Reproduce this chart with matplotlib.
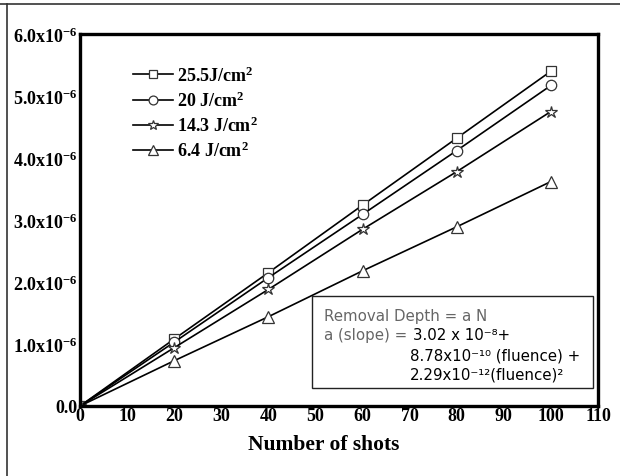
import matplotlib
matplotlib.use("Agg")
import matplotlib.pyplot as plt
from matplotlib.lines import Line2D
from matplotlib.patches import Rectangle

plt.rcParams['mathtext.fontset'] = 'custom'
plt.rcParams['mathtext.rm'] = 'Liberation Serif:bold'
plt.rcParams['mathtext.bf'] = 'Liberation Serif:bold'
plt.rcParams['mathtext.it'] = 'Liberation Serif:bold'

shots = [0, 20, 40, 60, 80, 100]
depth_25_5 = [0, 1.08e-6, 2.15e-6, 3.24e-6, 4.32e-6, 5.40e-6]
depth_20 = [0, 1.03e-6, 2.07e-6, 3.09e-6, 4.12e-6, 5.17e-6]
depth_14_3 = [0, 0.94e-6, 1.88e-6, 2.85e-6, 3.78e-6, 4.75e-6]
depth_6_4 = [0, 0.73e-6, 1.44e-6, 2.18e-6, 2.89e-6, 3.62e-6]
labels = ['25.5J/cm$^{2}$', '20 J/cm$^{2}$', '14.3 J/cm$^{2}$', '6.4 J/cm$^{2}$']
markers = ['s', 'o', '*', '^']
msizes = [7, 7.5, 9, 9]

xticks = [0, 10, 20, 30, 40, 50, 60, 70, 80, 90, 100, 110]
yticks = [0, 1e-6, 2e-6, 3e-6, 4e-6, 5e-6, 6e-6]
yticklabels = ['0.0', '1.0x10$^{-6}$', '2.0x10$^{-6}$', '3.0x10$^{-6}$',
               '4.0x10$^{-6}$', '5.0x10$^{-6}$', '6.0x10$^{-6}$']

W, H = 620, 477
fig = plt.figure(figsize=(6.2, 4.77), dpi=100)
L, R, T, B = 80, 598, 35, 407
ax = fig.add_axes([L / W, 1 - B / H, (R - L) / W, (B - T) / H])

serif = {'family': 'Liberation Serif', 'weight': 'bold'}

series = [depth_25_5, depth_20, depth_14_3, depth_6_4]
for ys, lab, m, ms in zip(series, labels, markers, msizes):
    ax.plot(shots, ys, color='black', lw=1.2, marker=m, markersize=ms,
            markerfacecolor='white', markeredgecolor='#333333',
            markeredgewidth=0.9, label=lab)

ax.set_xlim(0, 110)
ax.set_ylim(0, 6e-6)
ax.set_xticks(xticks)
ax.set_xticklabels([str(v) for v in xticks], fontdict=serif, fontsize=13)
ax.set_yticks(yticks)
ax.set_yticklabels(yticklabels, fontdict=serif, fontsize=13)
ax.tick_params(axis='x', length=0, pad=1)
ax.tick_params(axis='y', length=0, pad=2)
for sp in ax.spines.values():
    sp.set_linewidth(2.4)
    sp.set_color('black')

leg = ax.legend(loc='upper left', bbox_to_anchor=(0.088, 0.935), frameon=False,
                prop={'family': 'Liberation Serif', 'weight': 'bold', 'size': 13},
                handlelength=2.2, handletextpad=0.25, labelspacing=0.32,
                borderaxespad=0, markerscale=0.85)

fig.text(324 / W, 1 - 445 / H, 'Number of shots', ha='center', va='center',
         fontdict=serif, fontsize=15.5)

# equation box
fig.patches.append(Rectangle((312 / W, 1 - 389 / H), (593 - 312) / W, (389 - 297) / H,
                             transform=fig.transFigure, facecolor='white',
                             edgecolor='#222222', lw=1.0, zorder=5))
sans = {'family': 'DejaVu Sans', 'size': 10.8}
fig.text(324 / W, 1 - 316 / H, 'Removal Depth = a N', color='#666666', va='center',
         zorder=6, **sans)
fig.text(324 / W, 1 - 336 / H, 'a (slope) = ', color='#666666', va='center',
         zorder=6, **sans)
fig.text(413 / W, 1 - 336 / H, '3.02 x 10\u207b\u2078+', color='black', va='center',
         zorder=6, **sans)
fig.text(410 / W, 1 - 356 / H, '8.78x10\u207b\u00b9\u2070 (fluence) +', color='black',
         va='center', zorder=6, **sans)
fig.text(410 / W, 1 - 375 / H, '2.29x10\u207b\u00b9\u00b2(fluence)\u00b2', color='black',
         va='center', zorder=6, **sans)

# outer frame lines
fig.add_artist(Line2D([0, 1], [1 - 5 / H, 1 - 5 / H], transform=fig.transFigure,
                      color='#333333', lw=1.2))
fig.add_artist(Line2D([7 / W, 7 / W], [0, 1 - 5 / H], transform=fig.transFigure,
                      color='#333333', lw=1.2))

fig.savefig('out.png', dpi=100)
